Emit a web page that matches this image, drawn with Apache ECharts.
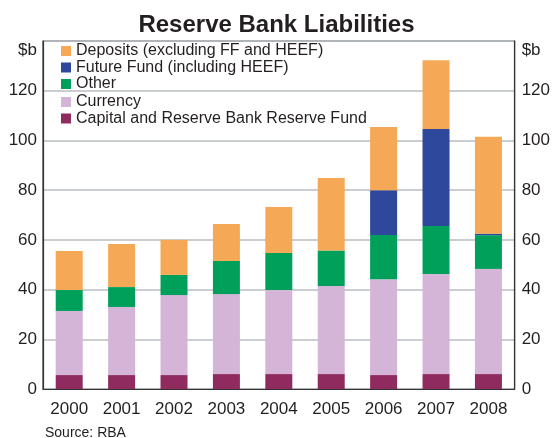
<!DOCTYPE html>
<html>
<head>
<meta charset="utf-8">
<script src="https://cdn.jsdelivr.net/npm/echarts@6/dist/echarts.min.js"></script>
<style>
  html, body { margin: 0; padding: 0; background: #fff; }
  #chart { width: 553px; height: 438px; }
</style>
</head>
<body>
<div id="chart"></div>
<script>
// years on the x axis
var years = ['2000', '2001', '2002', '2003', '2004', '2005', '2006', '2007', '2008'];

// $b
var capital  = [5.6, 5.6, 5.6, 6.0, 6.0, 6.0, 5.6, 6.0, 6.0];
var currency = [25.8, 27.4, 32.2, 32.2, 33.8, 35.4, 38.6, 40.3, 42.3];
var other    = [8.4, 8.0, 8.1, 13.3, 14.9, 14.3, 17.8, 19.3, 13.6];
var future   = [0, 0, 0, 0, 0, 0, 18.0, 39.0, 0.6];
var deposits = [15.7, 17.3, 14.1, 14.9, 18.5, 29.2, 25.4, 27.7, 39.0];

var yTicks = [0, 20, 40, 60, 80, 100, 120, 140];

var font = 'Liberation Sans, Arial, sans-serif';
var txt = '#231f20';

function yLabel(v) {
  return v === 140 ? '{u|$b}' : String(v);
}

function yAxis(pos) {
  return {
    type: 'value',
    position: pos,
    min: yTicks[0],
    max: yTicks[yTicks.length - 1],
    interval: 20,
    axisLine: { show: true, lineStyle: { color: '#333', width: 1.2 } },
    axisTick: { show: false },
    splitLine: { show: pos === 'left', lineStyle: { color: '#b9bec3', width: 1.5 } },
    axisLabel: {
      formatter: yLabel,
      margin: pos === 'left' ? 6 : 7,
      fontFamily: font,
      fontSize: 17,
      color: txt,
      rich: { u: { fontFamily: font, fontSize: 17, color: txt, padding: [18, 0, 0, 0] } }
    }
  };
}

function bar(name, data, color) {
  return {
    name: name,
    type: 'bar',
    stack: 'total',
    barWidth: 27,
    data: data,
    itemStyle: { color: color },
    emphasis: { disabled: true }
  };
}

var legendText = { fontFamily: font, fontSize: 16, color: txt, lineHeight: 15 };

var chart = echarts.init(document.getElementById('chart'));
chart.setOption({
  animation: false,
  title: {
    text: 'Reserve Bank Liabilities',
    left: 'center',
    top: 8,
    textStyle: { fontFamily: font, fontSize: 24, fontWeight: 'bold', color: txt }
  },
  legend: [{
    data: ['Deposits (excluding FF and HEEF)', 'Future Fund (including HEEF)', 'Other'],
    orient: 'vertical',
    left: 61,
    top: 43,
    padding: 0,
    itemGap: 0.5,
    itemWidth: 10,
    itemHeight: 10,
    icon: 'rect',
    selectedMode: false,
    textStyle: legendText
  }, {
    data: ['Currency', 'Capital and Reserve Bank Reserve Fund'],
    orient: 'vertical',
    left: 61,
    top: 94,
    padding: 0,
    itemGap: 0.5,
    itemWidth: 10,
    itemHeight: 10,
    icon: 'rect',
    selectedMode: false,
    textStyle: legendText
  }],
  grid: {
    left: 43,
    right: 36,
    top: 41,
    bottom: 49,
    show: true,
    borderColor: '#333',
    borderWidth: 1.2
  },
  xAxis: {
    type: 'category',
    data: years,
    axisLine: { lineStyle: { color: '#333', width: 1.2 } },
    axisTick: { inside: true, length: 6, lineStyle: { color: '#333' } },
    axisLabel: { margin: 12, fontFamily: font, fontSize: 17, color: txt }
  },
  yAxis: [yAxis('left'), yAxis('right')],
  series: [
    bar('Capital and Reserve Bank Reserve Fund', capital, '#902b5f'),
    bar('Currency', currency, '#d4b4d7'),
    bar('Other', other, '#00a05b'),
    bar('Future Fund (including HEEF)', future, '#2e489c'),
    bar('Deposits (excluding FF and HEEF)', deposits, '#f5a956')
  ],
  graphic: [{
    type: 'text',
    left: 45,
    top: 426,
    style: { text: 'Source: RBA', fontFamily: font, fontSize: 14, fill: txt }
  }]
});
</script>
</body>
</html>
